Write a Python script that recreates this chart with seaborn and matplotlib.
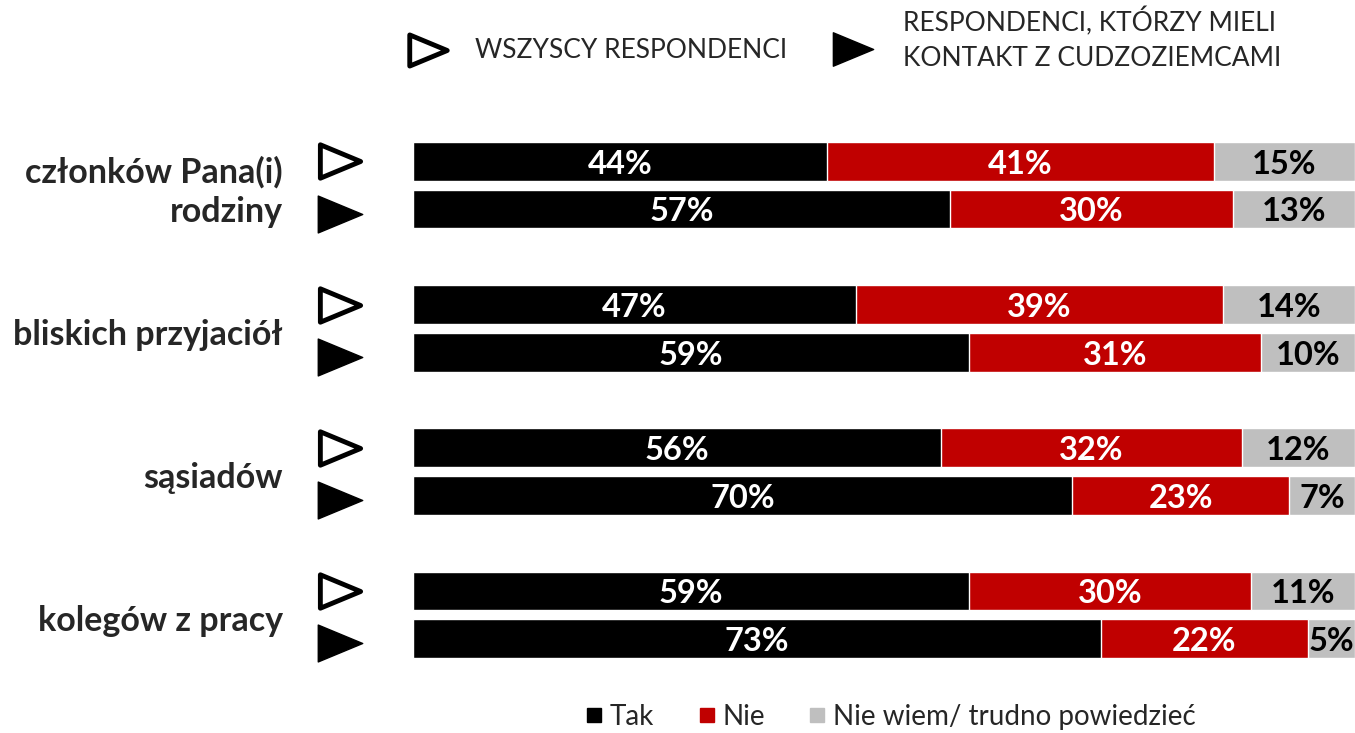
import numpy as np
import pandas as pd
import matplotlib
matplotlib.use('Agg')
import matplotlib.pyplot as plt
import matplotlib.transforms as mtransforms
from matplotlib.path import Path
from matplotlib.lines import Line2D
import seaborn as sns

# data
categories = ['członków Pana(i)\nrodziny', 'bliskich przyjaciół', 'sąsiadów', 'kolegów z pracy']
tak_all = [44, 47, 56, 59]
nie_all = [41, 39, 32, 30]
nw_all = [15, 14, 12, 11]
tak_contact = [57, 59, 70, 73]
nie_contact = [30, 31, 23, 22]
nw_contact = [13, 10, 7, 5]
series_names = ['Tak', 'Nie', 'Nie wiem/ trudno powiedzieć']
group_names = ['WSZYSCY RESPONDENCI', 'RESPONDENCI, KTÓRZY MIELI\nKONTAKT Z CUDZOZIEMCAMI']

BLACK = '#000000'
RED = '#C00000'
GRAY = '#BFBFBF'


def build_frame():
    """Long table: one row per bar, with a numeric position"""
    rows = []
    for g, cat in enumerate(categories):
        for r, (tak, nie, nw) in enumerate([(tak_all[g], nie_all[g], nw_all[g]),
                                            (tak_contact[g], nie_contact[g], nw_contact[g])]):
            rows.append({'category': cat, 'row': r, 'pos': g * 3 + r,
                         'tak': tak, 'nie': nie, 'nw': nw})
    df = pd.DataFrame(rows)
    df['cum_nie'] = df['tak'] + df['nie']
    df['cum_nw'] = df['cum_nie'] + df['nw']
    return df


def main():
    sns.set_style('white')
    plt.rcParams['font.family'] = ['Lato', 'DejaVu Sans']

    df = build_frame()

    fig = plt.figure(figsize=(13.55, 7.33), dpi=100)
    ax = fig.add_axes([413 / 1355, 1 - 670 / 733, 942 / 1355, 540 / 733])

    # stacked bars: draw cumulative totals back to front
    for col, color in [('cum_nw', GRAY), ('cum_nie', RED), ('tak', BLACK)]:
        sns.barplot(data=df, x=col, y='pos', orient='h', native_scale=True,
                    color=color, saturation=1, width=39 / 48,
                    edgecolor='white', linewidth=1, errorbar=None, ax=ax)

    ax.set_xlim(0, 100)
    ax.set_ylim(10.656, -0.656)
    ax.axis('off')

    # value labels (small downward nudge so digits sit in the middle of the bar)
    lbl = dict(ha='center', va='center', fontsize=23.5, fontweight='bold')
    for _, r in df.iterrows():
        y = r['pos'] + 0.06
        ax.text(r['tak'] / 2, y, f"{r['tak']}%", color='white', **lbl)
        ax.text(r['tak'] + r['nie'] / 2, y, f"{r['nie']}%", color='white', **lbl)
        ax.text(r['cum_nie'] + r['nw'] / 2, y, f"{r['nw']}%", color='black', **lbl)

    trans = mtransforms.blended_transform_factory(ax.transAxes, ax.transData)
    tri = Path([(-1, -0.83), (1, 0), (-1, 0.83), (-1, -0.83)],
               [Path.MOVETO, Path.LINETO, Path.LINETO, Path.CLOSEPOLY])

    # category labels and row markers
    for g, cat in enumerate(categories):
        ax.text(-0.138, g * 3 + 0.64, cat, transform=trans, ha='right', va='center',
                fontsize=24.5, fontweight='bold', linespacing=1.3)
        ax.plot([-0.0775], [g * 3 + 0.0], marker=tri, markersize=29, markerfacecolor='white',
                markeredgecolor='black', markeredgewidth=3.5, transform=trans, clip_on=False)
        ax.plot([-0.0775], [g * 3 + 1.1], marker=tri, markersize=32, color='black',
                transform=trans, clip_on=False, linestyle='none')

    # header legend
    ax.plot([428 / 1355], [1 - 50 / 733], marker=tri, markersize=27, markerfacecolor='white',
            markeredgecolor='black', markeredgewidth=3.5, transform=fig.transFigure, clip_on=False)
    fig.text(475 / 1355, 1 - 50 / 733, group_names[0], ha='left', va='center', fontsize=19)
    ax.plot([853 / 1355], [1 - 49 / 733], marker=tri, markersize=29, color='black',
            transform=fig.transFigure, clip_on=False, linestyle='none')
    fig.text(903 / 1355, 1 - 39 / 733, group_names[1], ha='left', va='center', fontsize=19,
             linespacing=1.45)

    # bottom legend
    handles = [Line2D([], [], marker='s', linestyle='none', markersize=10, color=c)
               for c in [BLACK, RED, GRAY]]
    fig.legend(handles, series_names, loc='center', bbox_to_anchor=(888 / 1355, 1 - 717 / 733),
               ncol=3, frameon=False, fontsize=20, handletextpad=0.05, columnspacing=1.4,
               handlelength=1.0)

    fig.savefig('out.png', dpi=100)
    plt.close(fig)


if __name__ == "__main__":
    main()
